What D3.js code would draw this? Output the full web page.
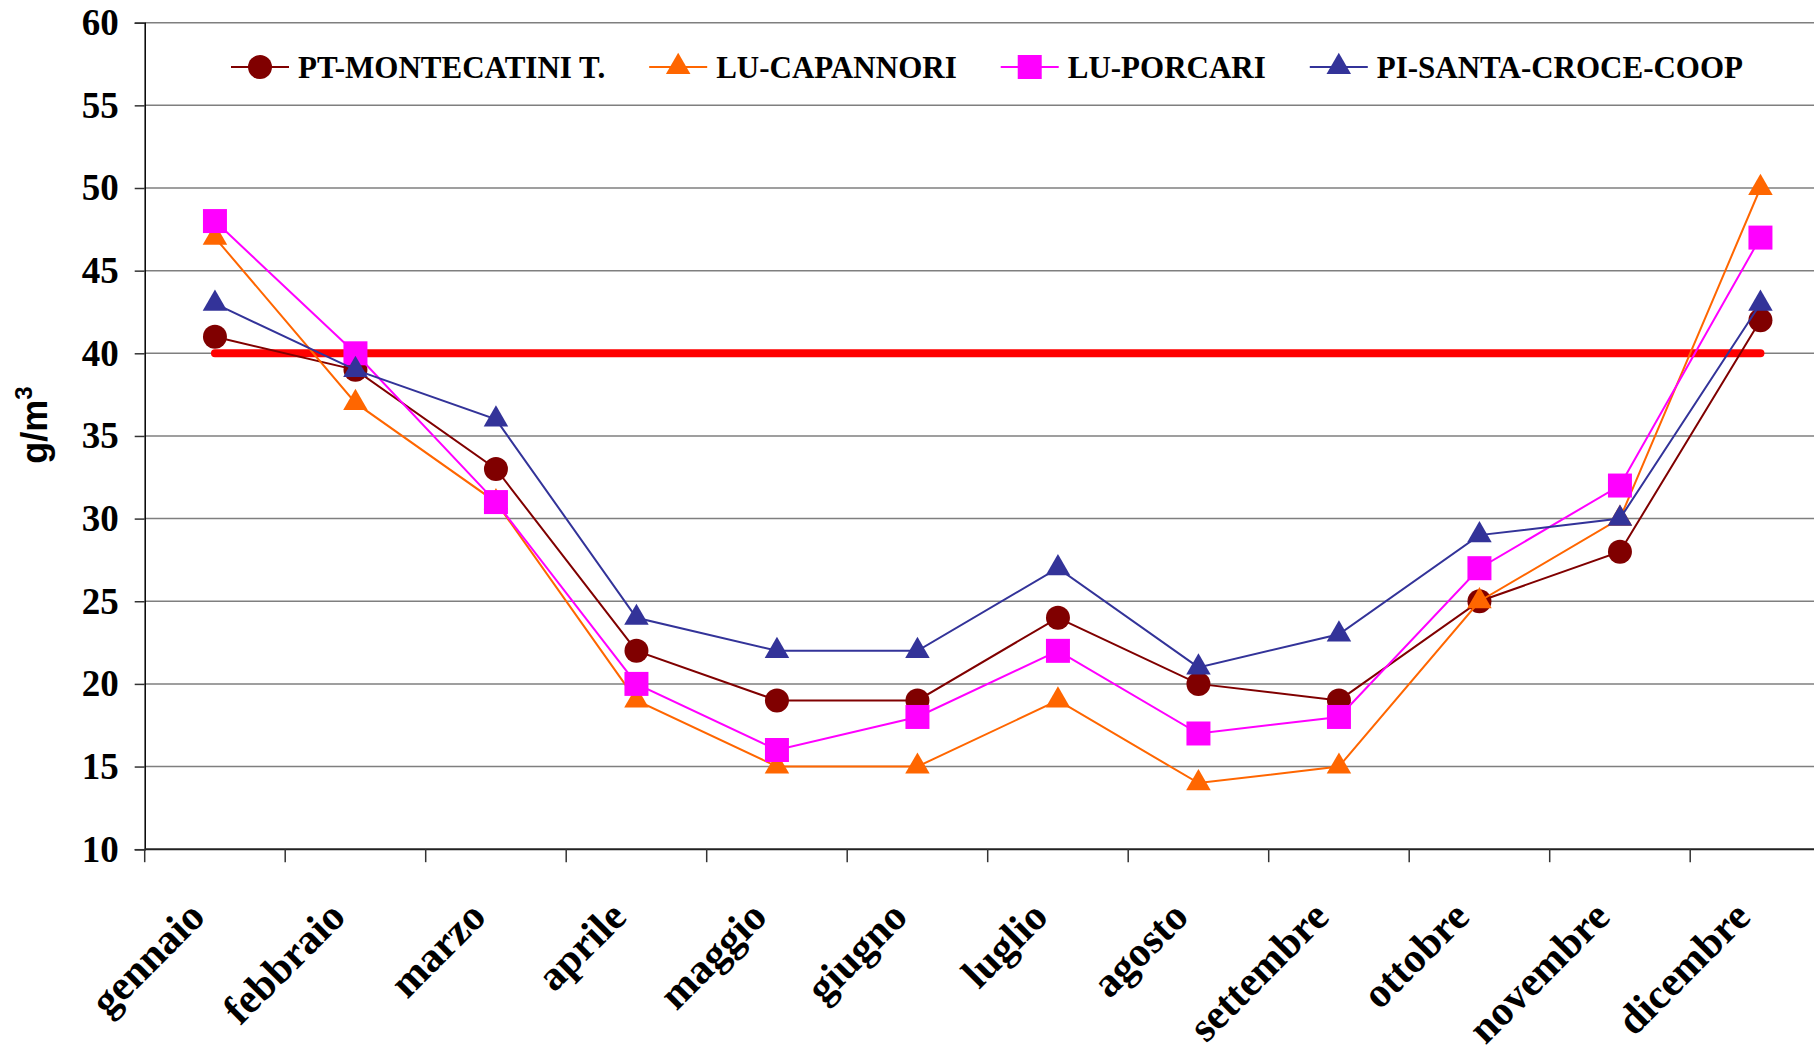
<!DOCTYPE html>
<html>
<head>
<meta charset="utf-8">
<script src="https://cdn.jsdelivr.net/npm/d3@7"></script>
<style>
  body { margin: 0; background: #fff; }
  svg { display: block; }
</style>
</head>
<body>
<svg id="canvas"></svg>
<script>
// ###############
// Data
// ###############
var months = ["gennaio", "febbraio", "marzo", "aprile", "maggio", "giugno",
              "luglio", "agosto", "settembre", "ottobre", "novembre", "dicembre"];

var yTicks = [10, 15, 20, 25, 30, 35, 40, 45, 50, 55, 60];

var seriesNames = ["PT-MONTECATINI T.", "LU-CAPANNORI", "LU-PORCARI", "PI-SANTA-CROCE-COOP"];

var montecatini = [41, 39, 33, 22, 19, 19, 24, 20, 19, 25, 28, 42];
var capannori   = [47, 37, 31, 19, 15, 15, 19, 14, 15, 25, 30, 50];
var porcari     = [48, 40, 31, 20, 16, 18, 22, 17, 18, 27, 32, 47];
var santaCroce  = [43, 39, 36, 24, 22, 22, 27, 21, 23, 29, 30, 43];

var limitValue = 40;   // red reference line

// ###############
// Style per series
// ###############
var seriesColors  = ["#800000", "#FF6600", "#FF00FF", "#333399"];
var seriesSymbols = [d3.symbolCircle, d3.symbolTriangle, d3.symbolSquare, d3.symbolTriangle];
var symbolSizes   = [452, 260, 576, 260];

var seriesValues = [montecatini, capannori, porcari, santaCroce];

function drawChart() {
  var width = 1814, height = 1051;
  var svg = d3.select("#canvas").attr("width", width).attr("height", height);

  // plot area runs a bit past the right edge, like the original (it is cut off)
  var plotLeft = 144.7, plotRight = 1830.7, plotTop = 22.7, plotBottom = 849.2;

  var x = d3.scaleBand().domain(months).range([plotLeft, plotRight]);
  var xEdge = d3.scaleLinear().domain([0, months.length]).range([plotLeft, plotRight]);
  var y = d3.scaleLinear().domain([10, 60]).range([plotBottom, plotTop]);

  function cx(i) { return x(months[i]) + x.bandwidth() / 2; }

  // gridlines
  svg.append("g")
    .selectAll("line")
    .data(yTicks.filter(function(v) { return v > 10; }))
    .enter().append("line")
      .attr("x1", plotLeft).attr("x2", plotRight)
      .attr("y1", function(d) { return y(d); })
      .attr("y2", function(d) { return y(d); })
      .attr("stroke", "#7f7f7f")
      .attr("stroke-width", 1.5);

  // y axis
  var yAxis = svg.append("g")
    .attr("transform", "translate(" + plotLeft + ",0)")
    .call(d3.axisLeft(y).tickValues(yTicks).tickSize(10).tickPadding(16).tickFormat(d3.format("d")));
  yAxis.select(".domain").attr("stroke", "#000").attr("stroke-width", 1.5);
  yAxis.selectAll(".tick line").attr("stroke", "#333").attr("stroke-width", 1.5);
  yAxis.selectAll("text")
    .attr("font-family", "'Liberation Serif', 'Times New Roman', serif")
    .attr("font-weight", "bold")
    .attr("font-size", 37)
    .attr("fill", "#000");

  // x axis line + ticks between categories
  svg.append("line")
    .attr("x1", plotLeft).attr("x2", plotRight)
    .attr("y1", plotBottom).attr("y2", plotBottom)
    .attr("stroke", "#222").attr("stroke-width", 2);
  svg.append("g")
    .selectAll("line")
    .data(d3.range(months.length + 1))
    .enter().append("line")
      .attr("x1", function(d) { return xEdge(d); })
      .attr("x2", function(d) { return xEdge(d); })
      .attr("y1", plotBottom).attr("y2", plotBottom + 13)
      .attr("stroke", "#333").attr("stroke-width", 1.5);

  // month labels, rotated
  svg.append("g")
    .selectAll("text")
    .data(months)
    .enter().append("text")
      .attr("transform", function(d, i) { return "translate(" + (cx(i) - 8) + "," + 919 + ") rotate(-45)"; })
      .attr("text-anchor", "end")
      .attr("font-family", "'Liberation Serif', 'Times New Roman', serif")
      .attr("font-weight", "bold")
      .attr("font-size", 42)
      .text(function(d) { return d; });

  // y axis title
  var yTitle = svg.append("text")
    .attr("transform", "translate(47,425) rotate(-90)")
    .attr("text-anchor", "middle")
    .attr("font-family", "'Liberation Sans', Arial, sans-serif")
    .attr("font-weight", "bold")
    .attr("font-size", 36);
  yTitle.append("tspan").text("g/m");
  yTitle.append("tspan").attr("font-size", 24).attr("dy", -15).text("3");

  // red limit line
  var line = d3.line()
    .x(function(d, i) { return cx(i); })
    .y(function(d) { return y(d); });

  svg.append("path")
    .datum(months.map(function() { return limitValue; }))
    .attr("d", line)
    .attr("fill", "none")
    .attr("stroke", "#FF0000")
    .attr("stroke-width", 8)
    .attr("stroke-linecap", "round");

  // series lines and markers
  seriesValues.forEach(function(vals, s) {
    var g = svg.append("g");
    g.append("path")
      .datum(vals)
      .attr("d", line)
      .attr("fill", "none")
      .attr("stroke", seriesColors[s])
      .attr("stroke-width", 2);
    g.selectAll("path.mark")
      .data(vals)
      .enter().append("path")
        .attr("class", "mark")
        .attr("d", d3.symbol().type(seriesSymbols[s]).size(symbolSizes[s]))
        .attr("transform", function(d, i) { return "translate(" + cx(i) + "," + y(d) + ")"; })
        .attr("fill", seriesColors[s]);
  });

  // ###############
  // legend
  // ###############
  var legend = svg.append("g");
  var lx = 231, ly = 67;
  seriesNames.forEach(function(name, s) {
    var item = legend.append("g").attr("transform", "translate(" + lx + "," + ly + ")");
    item.append("line")
      .attr("x1", 0).attr("x2", 58)
      .attr("stroke", seriesColors[s]).attr("stroke-width", 2);
    item.append("path")
      .attr("d", d3.symbol().type(seriesSymbols[s]).size(symbolSizes[s]))
      .attr("transform", "translate(29,0)")
      .attr("fill", seriesColors[s]);
    var t = item.append("text")
      .attr("x", 67)
      .attr("y", 11)
      .attr("font-family", "'Liberation Serif', 'Times New Roman', serif")
      .attr("font-weight", "bold")
      .attr("font-size", 31)
      .text(name);
    lx += 67 + t.node().getComputedTextLength() + 44;
  });
}

drawChart();
</script>
</body>
</html>
